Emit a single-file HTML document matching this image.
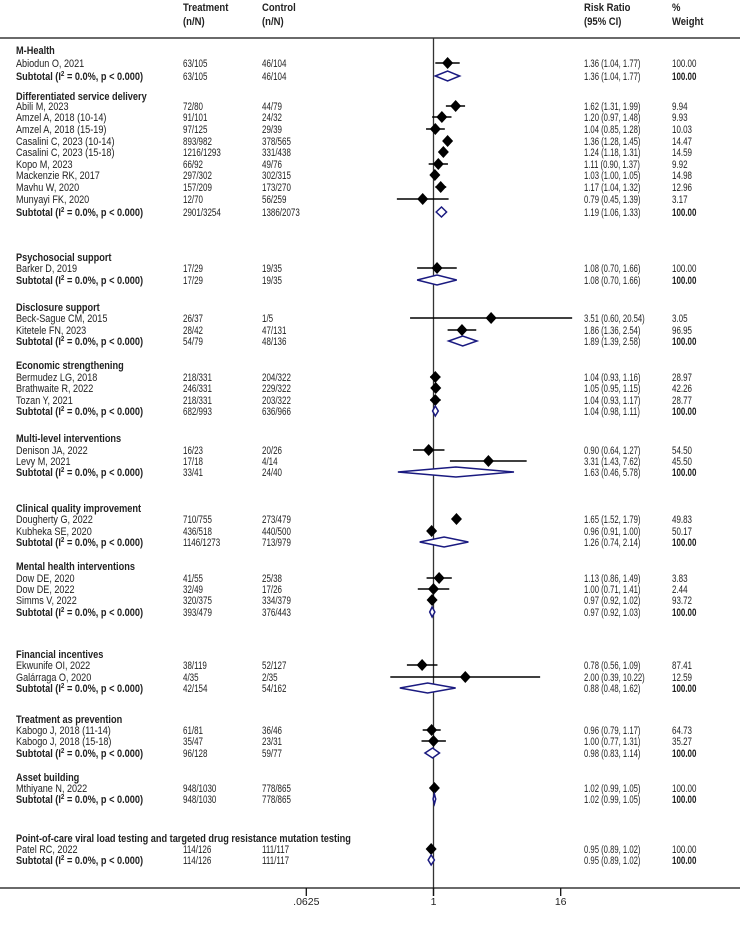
<!DOCTYPE html>
<html><head><meta charset="utf-8"><style>
html,body{margin:0;padding:0;background:#fff;}
svg{display:block;font-family:"Liberation Sans",sans-serif;}
</style></head><body>
<svg id="plot" width="740" height="933" viewBox="0 0 740 933"></svg>
<script>
// row kinds: h=group header, s=study, t=subtotal
const kinds=["h","s","t","h","s","s","s","s","s","s","s","s","s","t","h","s","t","h","s","s","t","h","s","s","s","t","h","s","s","t","h","s","s","t","h","s","s","s","t","h","s","s","t","h","s","s","t","h","s","t","h","s","t"];
const labels=["M-Health","Abiodun O, 2021","Subtotal","Differentiated service delivery","Abili M, 2023","Amzel A, 2018 (10-14)","Amzel A, 2018 (15-19)","Casalini C, 2023 (10-14)","Casalini C, 2023 (15-18)","Kopo M, 2023","Mackenzie RK, 2017","Mavhu W, 2020","Munyayi FK, 2020","Subtotal","Psychosocial support","Barker D, 2019","Subtotal","Disclosure support","Beck-Sague CM, 2015","Kitetele FN, 2023","Subtotal","Economic strengthening","Bermudez LG, 2018","Brathwaite R, 2022","Tozan Y, 2021","Subtotal","Multi-level interventions","Denison JA, 2022","Levy M, 2021","Subtotal","Clinical quality improvement","Dougherty G, 2022","Kubheka SE, 2020","Subtotal","Mental health interventions","Dow DE, 2020","Dow DE, 2022","Simms V, 2022","Subtotal","Financial incentives","Ekwunife OI, 2022","Galárraga O, 2020","Subtotal","Treatment as prevention","Kabogo J, 2018 (11-14)","Kabogo J, 2018 (15-18)","Subtotal","Asset building","Mthiyane N, 2022","Subtotal","Point-of-care viral load testing and targeted drug resistance mutation testing","Patel RC, 2022","Subtotal"];
const treat=["","63/105","63/105","","72/80","91/101","97/125","893/982","1216/1293","66/92","297/302","157/209","12/70","2901/3254","","17/29","17/29","","26/37","28/42","54/79","","218/331","246/331","218/331","682/993","","16/23","17/18","33/41","","710/755","436/518","1146/1273","","41/55","32/49","320/375","393/479","","38/119","4/35","42/154","","61/81","35/47","96/128","","948/1030","948/1030","","114/126","114/126"];
const ctrl=["","46/104","46/104","","44/79","24/32","29/39","378/565","331/438","49/76","302/315","173/270","56/259","1386/2073","","19/35","19/35","","1/5","47/131","48/136","","204/322","229/322","203/322","636/966","","20/26","4/14","24/40","","273/479","440/500","713/979","","25/38","17/26","334/379","376/443","","52/127","2/35","54/162","","36/46","23/31","59/77","","778/865","778/865","","111/117","111/117"];
const rr=[null,1.36,1.36,null,1.62,1.20,1.04,1.36,1.24,1.11,1.03,1.17,0.79,1.19,null,1.08,1.08,null,3.51,1.86,1.89,null,1.04,1.05,1.04,1.04,null,0.90,3.31,1.63,null,1.65,0.96,1.26,null,1.13,1.00,0.97,0.97,null,0.78,2.00,0.88,null,0.96,1.00,0.98,null,1.02,1.02,null,0.95,0.95];
const lo=[null,1.04,1.04,null,1.31,0.97,0.85,1.28,1.18,0.90,1.00,1.04,0.45,1.06,null,0.70,0.70,null,0.60,1.36,1.39,null,0.93,0.95,0.93,0.98,null,0.64,1.43,0.46,null,1.52,0.91,0.74,null,0.86,0.71,0.92,0.92,null,0.56,0.39,0.48,null,0.79,0.77,0.83,null,0.99,0.99,null,0.89,0.89];
const hi=[null,1.77,1.77,null,1.99,1.48,1.28,1.45,1.31,1.37,1.05,1.32,1.39,1.33,null,1.66,1.66,null,20.54,2.54,2.58,null,1.16,1.15,1.17,1.11,null,1.27,7.62,5.78,null,1.79,1.00,2.14,null,1.49,1.41,1.02,1.03,null,1.09,10.22,1.62,null,1.17,1.31,1.14,null,1.05,1.05,null,1.02,1.02];
const weights=["","100.00","100.00","","9.94","9.93","10.03","14.47","14.59","9.92","14.98","12.96","3.17","100.00","","100.00","100.00","","3.05","96.95","100.00","","28.97","42.26","28.77","100.00","","54.50","45.50","100.00","","49.83","50.17","100.00","","3.83","2.44","93.72","100.00","","87.41","12.59","100.00","","64.73","35.27","100.00","","100.00","100.00","","100.00","100.00"];
const tickValues=[0.0625,1,16];
const tickLabels=[".0625","1","16"];
// layout: vertical centre of each row (pixels)
const rowY=[50,63,76,96,106,117,129,141,152,164,175,187,199,212,257,268,280,307,318,330,341,365,377,388,400,411,438,450,461,472,508,519,531,542,566,578,589,600,612,654,665,677,688,719,730,741,753,777,788,799,838,849,860];

const NS="http://www.w3.org/2000/svg";
const svg=document.getElementById('plot');
const X0=433.5, PX=31.8, AXY=888;
const CT=183, CC=262, CR=584, CW=672, CN=16;
const FS=11, K=10/11;
function xs(v){return X0+PX*Math.log2(v);}
function mk(tag,attrs,parent){const e=document.createElementNS(NS,tag);for(const k in attrs)e.setAttribute(k,attrs[k]);(parent||svg).appendChild(e);return e;}
function txt(x,y,s,bold,name,sc){
  const t=mk('text',{transform:`translate(${x},${y}) scale(${sc*K},1)`,'font-size':FS,'font-weight':bold?'bold':'normal',fill:'#222'});
  t.textContent=s;
  
  
  return t;
}
function sub(x,y,name){
  const t=mk('text',{transform:`translate(${x},${y}) scale(${0.92*K},1)`,'font-size':FS,'font-weight':'bold',fill:'#222'});
  
  
  t.appendChild(document.createTextNode('Subtotal (I'));
  const sp=document.createElementNS(NS,'tspan');sp.setAttribute('font-size','7.5');sp.setAttribute('dy','-4');sp.textContent='2';t.appendChild(sp);
  const sp2=document.createElementNS(NS,'tspan');sp2.setAttribute('dy','4');sp2.textContent=' = 0.0%, p < 0.000)';t.appendChild(sp2);
}
// headers
txt(CT,11,'Treatment',true,'treatment-header',0.95);txt(CT,25,'(n/N)',true,'treatment-header-unit',0.95);
txt(CC,11,'Control',true,'control-header',0.95);txt(CC,25,'(n/N)',true,'control-header-unit',0.95);
txt(CR,11,'Risk Ratio',true,'risk-ratio-header',0.95);txt(CR,25,'(95% CI)',true,'risk-ratio-header-ci',0.95);
txt(CW,11,'%',true,'weight-header',0.95);txt(CW,25,'Weight',true,'weight-header-label',0.95);
let l=mk('line',{x1:0,y1:38,x2:740,y2:38,stroke:'#111','stroke-width':1.3});

l=mk('line',{x1:X0,y1:38,x2:X0,y2:896,stroke:'#333','stroke-width':1.3});

l=mk('line',{x1:0,y1:AXY,x2:740,y2:AXY,stroke:'#111','stroke-width':1.3});

tickValues.forEach((v,i)=>{
  const tk=mk('line',{x1:xs(v),y1:AXY,x2:xs(v),y2:896,stroke:'#111','stroke-width':1.3});
  
  const t=mk('text',{x:xs(v),y:905,'text-anchor':'middle','font-size':'10.5',fill:'#222'});
  t.textContent=tickLabels[i];
  
});
kinds.forEach((k,i)=>{
  const y=rowY[i], by=y+4;
  if(k==='h'){txt(CN,by,labels[i],true,'group-title',0.92);return;}
  if(k==='s') txt(CN,by,labels[i],false,'study-name',0.91); else sub(CN,by,'subtotal-label');
  txt(CT,by,treat[i],false,'treatment-count',0.8);
  txt(CC,by,ctrl[i],false,'control-count',0.8);
  txt(CR,by,rr[i].toFixed(2)+' ('+lo[i].toFixed(2)+', '+hi[i].toFixed(2)+')',false,'risk-ratio-ci',0.77);
  txt(CW,by,weights[i],k==='t','weight-value',0.8);
  const cx=xs(rr[i]),x1=xs(lo[i]),x2=xs(hi[i]);
  if(k==='s'){
    const w=mk('line',{x1:x1,y1:y,x2:x2,y2:y,stroke:'#000','stroke-width':1.6});
    
    const d=mk('polygon',{points:`${cx-5.5},${y} ${cx},${y-6} ${cx+5.5},${y} ${cx},${y+6}`,fill:'#000'});
    
  } else {
    const d=mk('polygon',{points:`${x1},${y} ${cx},${y-5} ${x2},${y} ${cx},${y+5}`,fill:'#fff',stroke:'#1a1a80','stroke-width':1.5});
    
  }
});
</script>
</body></html>
